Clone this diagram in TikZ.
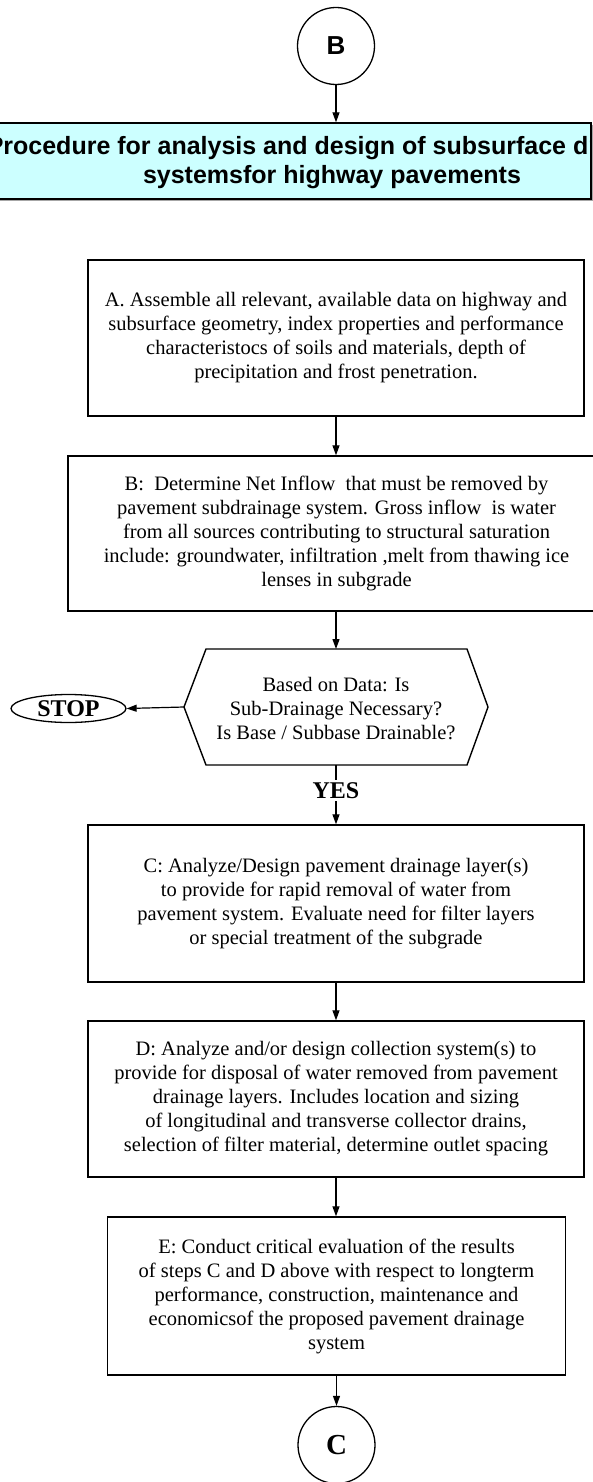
\documentclass[tikz,border=0pt]{standalone}
\usepackage{fontspec}
\setmainfont{Liberation Serif}
\newfontfamily\arialfont{Liberation Sans}
\usetikzlibrary{arrows.meta,shapes.geometric}
\definecolor{titlecyan}{HTML}{CCFFFF}
\begin{document}
\begin{tikzpicture}[x=1pt,y=-1pt,
  stepbox/.style={draw, line width=1.4pt, inner sep=0pt, align=center,
    font=\fontsize{20.5}{24}\selectfont},
  hextext/.style={inner sep=0pt, align=center, font=\fontsize{20.5}{24}\selectfont},
  hexline/.style={draw, line width=1.4pt, line join=miter},
  flow/.style={-{Triangle[length=10pt,width=7pt]}, line width=1.2pt},
  connector/.style={draw, circle, line width=1.3pt, minimum size=77pt, inner sep=0pt},
  titlebox/.style={draw, fill=titlecyan, line width=1.4pt, inner sep=0pt},
  titletext/.style={inner sep=0pt, align=center,
    font=\arialfont\bfseries\fontsize{25}{28.5}\selectfont},
  stopnode/.style={draw, ellipse, line width=1.3pt, minimum width=115pt,
    minimum height=28pt, inner sep=0pt, font=\bfseries\fontsize{24}{26}\selectfont},
  yeslabel/.style={fill=white, inner sep=2pt, font=\bfseries\fontsize{24}{26}\selectfont}
]
\useasboundingbox (0,0) rectangle (592,1482);

% top connector B
\node[connector, font=\arialfont\bfseries\fontsize{26}{28}\selectfont] (circB) at (336,46) {B};

% title banner
\fill[gray!70] (-80,125) rectangle (593,201);
\node[titlebox, minimum width=671, minimum height=76] (title) at (255.5,161) {};
\begin{scope}
  \clip (-80,123) rectangle (590.3,199);
  \node[titletext] (titletxt) at (332,162.5)
    {Procedure for analysis and design of subsurface drainage\\systemsfor highway pavements};
\end{scope}
\draw[flow] (circB.south) -- (circB.south |- title.north);

% boxes
\node[stepbox, minimum width=496, minimum height=156] (A) at (336,338)
  {A. Assemble all relevant, available data on highway and\\
   subsurface geometry, index properties and performance\\
   characteristocs of soils and materials, depth of\\
   precipitation and frost penetration.};

\node[stepbox, minimum width=537, minimum height=155] (Bb) at (336.5,533.5)
  {B:\ \ Determine Net Inflow\ \ that must be removed by\\
   pavement subdrainage system. Gross inflow\ \ is water\\
   from all sources contributing to structural saturation\\
   include: groundwater, infiltration ,melt from thawing ice\\
   lenses in subgrade};

% decision hexagon
\coordinate (hexL) at (184,707);
\coordinate (hexT) at (336,649);
\coordinate (hexB) at (336,765);
\path[hexline] (184,707) -- (206,649) -- (467,649) -- (488,707) -- (467,765) -- (206,765) -- cycle;
\node[hextext] (hex) at (336,709)
  {Based on Data: Is\\Sub-Drainage Necessary?\\Is Base / Subbase Drainable?};

\node[stopnode] (stop) at (68.5,708.5) {STOP};

\node[stepbox, minimum width=496, minimum height=157] (C) at (336,903.5)
  {C: Analyze/Design pavement drainage layer(s)\\
   to provide for rapid removal of water from\\
   pavement system. Evaluate need for filter layers\\
   or special treatment of the subgrade};

\node[stepbox, minimum width=496, minimum height=156] (D) at (336,1099)
  {D: Analyze and/or design collection system(s) to\\
   provide for disposal of water removed from pavement\\
   drainage layers. Includes location and sizing\\
   of longitudinal and transverse collector drains,\\
   selection of filter material, determine outlet spacing};

\node[stepbox, minimum width=458, minimum height=158] (E) at (336.5,1296)
  {E: Conduct critical evaluation of the results\\
   of steps C and D above with respect to longterm\\
   performance, construction, maintenance and\\
   economicsof the proposed pavement drainage\\
   system};

\node[connector, font=\bfseries\fontsize{29}{31}\selectfont] (circC) at (336.5,1445) {C};

% connectors
\draw[flow] (A.south) -- (A.south |- Bb.north);
\draw[flow] (A.south |- Bb.south) -- (hexT);
\draw[flow] (hexL) -- (stop.east);
\draw[flow] (hexB) -- node[yeslabel, pos=0.43] (yes) {YES} (hexB |- C.north);
\draw[flow] (C.south) -- (D.north);
\draw[flow] (D.south) -- (D.south |- E.north);
\draw[flow] (E.south) -- (circC.north);
\end{tikzpicture}
\end{document}
